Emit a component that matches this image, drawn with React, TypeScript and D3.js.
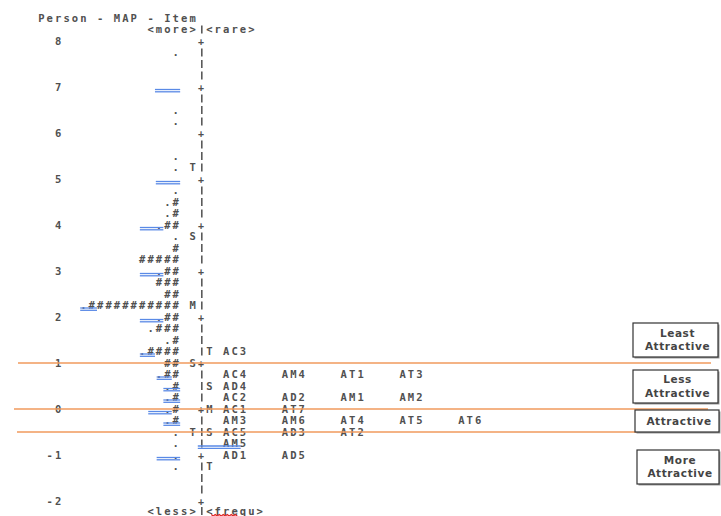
import React from "react";
import * as d3 from "d3";

// ---- data (Winsteps person–item map) ----
const rowValues = [8, 7.75, 7.5, 7.25, 7, 6.75, 6.5, 6.25, 6, 5.75, 5.5, 5.25, 5, 4.75, 4.5, 4.25, 4, 3.75, 3.5, 3.25, 3, 2.75, 2.5, 2.25, 2, 1.75, 1.5, 1.25, 1, 0.75, 0.5, 0.25, 0, -0.25, -0.5, -0.75, -1, -1.25, -1.5, -1.75, -2];
const personHist = ["", ".", "", "", "", "", ".", ".", "", "", ".", ".", "", ".", ".#", ".#", ".##", ".", "#", "#####", ".##", "###", "##", ".###########", ".##", ".###", ".#", ".####", "##", ".##", ".#", ".#", ".#", ".#", ".", ".", ".", ".", "", "", ""];
const personMarks = ["", "", "", "", "", "", "", "", "", "", "", "T", "", "", "", "", "", "S", "", "", "", "", "", "M", "", "", "", "", "S", "", "", "", "", "", "T", "", "", "", "", "", ""];
const axisChars = ["+", "|", "|", "|", "+", "|", "|", "|", "+", "|", "|", "|", "+", "|", "|", "|", "+", "|", "|", "|", "+", "|", "|", "|", "+", "|", "|", "|", "+", "|", "|", "|", "+", "|", "|", "|", "+", "|", "|", "|", "+"];
const itemMarks = ["", "", "", "", "", "", "", "", "", "", "", "", "", "", "", "", "", "", "", "", "", "", "", "", "", "", "", "T", "", "", "S", "", "M", "", "S", "", "", "T", "", "", ""];
const itemRows: string[][] = [
  [], [], [], [], [], [], [], [], [], [], [], [], [], [], [], [], [], [], [], [], [], [], [], [], [], [], [],
  ["AC3"],
  [],
  ["AC4", "AM4", "AT1", "AT3"],
  ["AD4"],
  ["AC2", "AD2", "AM1", "AM2"],
  ["AC1", "AT7"],
  ["AM3", "AM6", "AT4", "AT5", "AT6"],
  ["AC5", "AD3", "AT2"],
  ["AM5"],
  ["AD1", "AD5"],
  [], [], [], [],
];
const measureTicks = [8, 7, 6, 5, 4, 3, 2, 1, 0, -1, -2];
// highlighted (blue underline) runs: measure value, column from, column to (columns relative to the axis column)
const highlightValue = [7, 5, 4, 3, 2.25, 2, 1.25, 0.75, 0.5, 0.25, 0, -0.25, -0.75, -1];
const highlightFrom = [-5.1, -5, -6.9, -6.9, -14, -6.9, -6.9, -4.9, -4.1, -4.1, -5.9, -4.1, 0, -4.9];
const highlightTo = [-2.1, -2.1, -4.1, -4.1, -12, -4.1, -5.1, -3.1, -2.1, -2.1, -3.1, -2.1, 5.1, -2.1];
const cutValues = [1, 0, -0.5];
const bandLabels = [["Least", "Attractive"], ["Less", "Attractive"], ["Attractive"], ["More", "Attractive"]];

const MONO = "'DejaVu Sans Mono', 'Liberation Mono', monospace";
const SANS = "'DejaVu Sans', Verdana, sans-serif";
const TXT = "#505050";

export default function App() {
  const W = 721, H = 516;
  const y = d3.scaleLinear().domain([-2, 8]).range([501, 41]);
  const col = d3.scaleLinear().domain([0, 1]).range([197.8, 206.2]); // monospace grid, 0 = axis column
  const cw = col(1) - col(0);
  const fs = 10.5;

  const mono = (s: string, c: number, yy: number, key: string, size = fs, weight = 600) => (
    <text key={key} x={col(c) + (fs - size) * 0.3} y={yy} dy="0.35em" fontFamily={MONO} fontSize={size} fontWeight={weight} letterSpacing={cw - size * 0.602} fill={TXT} style={{ whiteSpace: "pre" }}>
      {s}
    </text>
  );
  const bar = (yy: number, key: string) => (
    <rect key={key} x={Math.round(col(0.5)) - 1} y={yy - 4} width={1.6} height={8} fill="#5a5a5a" />
  );

  const rowStep = y(0) - y(0.25);
  const boxes = [
    { x0: 633, x1: 718, y0: 323, y1: 357 },
    { x0: 633, x1: 718, y0: 370, y1: 403 },
    { x0: 635, x1: 719, y0: 410, y1: 432 },
    { x0: 637, x1: 719, y0: 450, y1: 484 },
  ];
  const cutX = [[18, 711], [14, 708], [17, 712]];
  const yTop = y(8) - rowStep;
  const yBot = y(-2) + rowStep - 1.5;

  return (
    <svg width={W} height={H} style={{ position: "absolute", left: 0, top: 0, background: "#fff" }}>
      <rect width={W} height={H} fill="#fff" />
      {mono("Person - MAP - Item", -19, y(8) - 2 * rowStep, "title")}
      {mono("<more>", -6, yTop, "more")}
      {bar(yTop, "moreBar")}
      {mono("<rare>", 1, yTop, "rare")}
      {mono("<less>", -6, yBot, "less")}
      {bar(yBot, "lessBar")}
      {mono("<frequ>", 1, yBot, "frequ")}
      <path
        d={d3.range(0, 14).map((i) => `${i === 0 ? "M" : "L"}${col(1.6) + i * 2},${yBot + 3.5 + (i % 2 ? 1.5 : 0)}`).join("")}
        stroke="#e02020" fill="none" strokeWidth={1.2}
      />
      {measureTicks.map((t) => {
        const s = String(t);
        return mono(s, -16 - s.length, y(t), "tk" + t);
      })}
      {rowValues.map((v, i) => (
        <g key={"r" + i}>
          {personHist[i] && mono(personHist[i], -2 - personHist[i].length, y(v), "p" + i)}
          {personMarks[i] && mono(personMarks[i], -1, y(v), "pm" + i)}
          {axisChars[i] === "|" ? bar(y(v), "ax" + i) : mono("+", 0, y(v), "ax" + i, 10, 700)}
          {itemMarks[i] && mono(itemMarks[i], 1, y(v), "im" + i)}
          {itemRows[i].map((it, j) => mono(it, 3 + j * 7, y(v), "it" + i + "_" + j))}
        </g>
      ))}
      {highlightValue.map((v, i) => (
        <g key={"hl" + i} stroke="#5a8ae6" strokeWidth={1.3}>
          <line x1={col(highlightFrom[i])} x2={col(highlightTo[i])} y1={y(v) + 2.5} y2={y(v) + 2.5} />
          <line x1={col(highlightFrom[i])} x2={col(highlightTo[i])} y1={y(v) + 4.8} y2={y(v) + 4.8} />
        </g>
      ))}
      {cutValues.map((v, i) => (
        <line key={"cut" + i} x1={cutX[i][0]} x2={cutX[i][1]} y1={y(v)} y2={y(v)} stroke="#f19a5c" strokeWidth={1.5} />
      ))}
      {bandLabels.map((lab, i) => {
        const b = boxes[i];
        const cx = (b.x0 + b.x1) / 2 + 2;
        const cy = (b.y0 + b.y1) / 2;
        return (
          <g key={"b" + i}>
            <rect x={b.x0 + 1.5} y={b.y0 + 1.5} width={b.x1 - b.x0} height={b.y1 - b.y0} fill="#999" />
            <rect x={b.x0} y={b.y0} width={b.x1 - b.x0} height={b.y1 - b.y0} fill="#fff" stroke="#333" strokeWidth={1.2} />
            {lab.map((t, k) => (
              <text key={k} x={cx} y={cy + (k - (lab.length - 1) / 2) * 13.5} dy="0.35em" textAnchor="middle" fontFamily={SANS} fontSize={10.5} fontWeight={600} letterSpacing={0.6} fill="#444">
                {t}
              </text>
            ))}
          </g>
        );
      })}
    </svg>
  );
}
